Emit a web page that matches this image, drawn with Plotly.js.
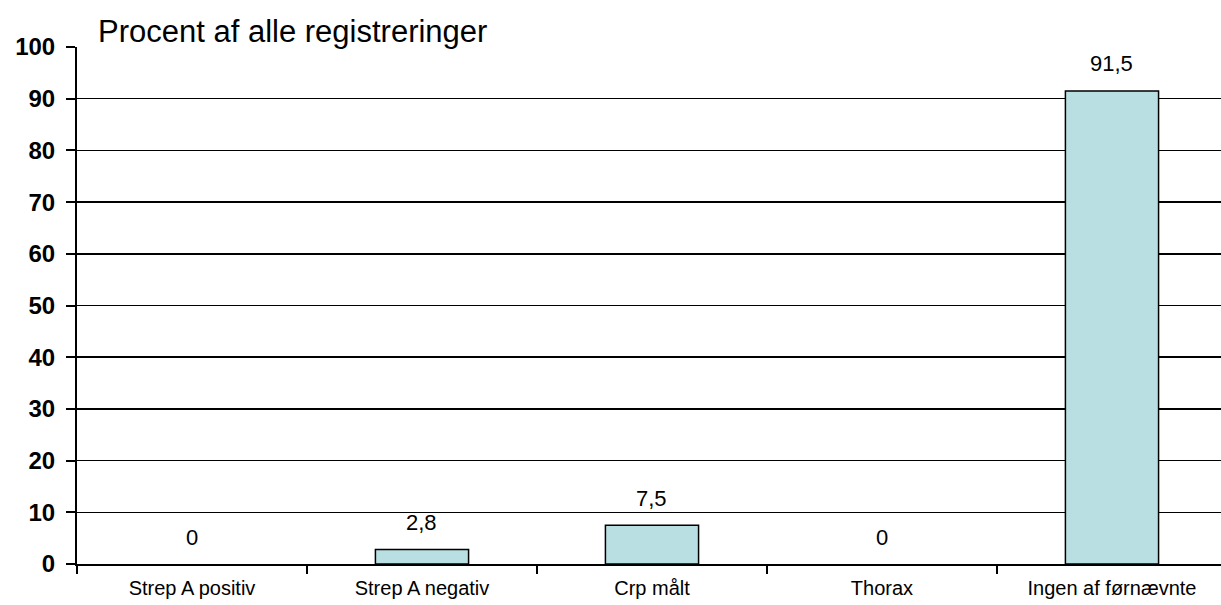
<!DOCTYPE html>
<html>
<head>
<meta charset="utf-8">
<script src="https://cdn.plot.ly/plotly-3.0.1.min.js"></script>
<style>html,body{margin:0;padding:0;background:#fff;}#chart{width:1221px;height:605px;}</style>
</head>
<body>
<div id="chart"></div>
<script>
const categories = ["Strep A positiv", "Strep A negativ", "Crp målt", "Thorax", "Ingen af førnævnte"];
const values = [0, 2.8, 7.5, 0, 91.5];
const yTicks = [0, 10, 20, 30, 40, 50, 60, 70, 80, 90, 100];
const titleText = "Procent af alle registreringer";

const fmt = v => String(v).replace(".", ",");
const FONT = "Liberation Sans, Arial, sans-serif";

const trace = {
  type: "bar",
  x: categories,
  y: values,
  width: 0.405,
  marker: {color: "#b9dfe2", line: {color: "#000", width: values.map(v => v > 0 ? 1.5 : 0)}},
  hoverinfo: "none"
};

const annotations = categories.map((c, i) => ({
  x: c, y: values[i], xref: "x", yref: "y",
  text: fmt(values[i]), showarrow: false,
  yanchor: "middle", yshift: 27,
  font: {family: FONT, size: 22, color: "#000"}
}));

const layout = {
  width: 1221, height: 605,
  margin: {l: 77, r: 0, t: 47, b: 41},
  paper_bgcolor: "#fff", plot_bgcolor: "#fff",
  showlegend: false,
  title: {
    text: titleText,
    x: 98/1221, xanchor: "left", xref: "container",
    y: 1 - 31/605, yanchor: "middle", yref: "container",
    font: {family: FONT, size: 31, color: "#000"}
  },
  xaxis: {
    type: "category",
    range: [-0.5, 4.474],
    tickson: "boundaries",
    ticks: "outside", ticklen: 8, tickwidth: 2, tickcolor: "#000",
    ticklabelstandoff: 5,
    showline: true, linecolor: "#000", linewidth: 2,
    showgrid: false, zeroline: false,
    tickfont: {family: FONT, size: 20, color: "#000"},
    fixedrange: true
  },
  yaxis: {
    range: [0, 100],
    tickvals: yTicks,
    ticktext: yTicks.map(String),
    ticks: "outside", ticklen: 9, tickwidth: 2, tickcolor: "#000",
    ticklabelstandoff: 6,
    showline: true, linecolor: "#000", linewidth: 2,
    showgrid: true, gridcolor: "#000", gridwidth: 1.5,
    zeroline: false,
    tickfont: {family: FONT, size: 24, color: "#000", weight: "bold"},
    fixedrange: true
  },
  annotations: annotations
};

Plotly.newPlot("chart", [trace], layout, {displayModeBar: false, staticPlot: true});
</script>
</body>
</html>
